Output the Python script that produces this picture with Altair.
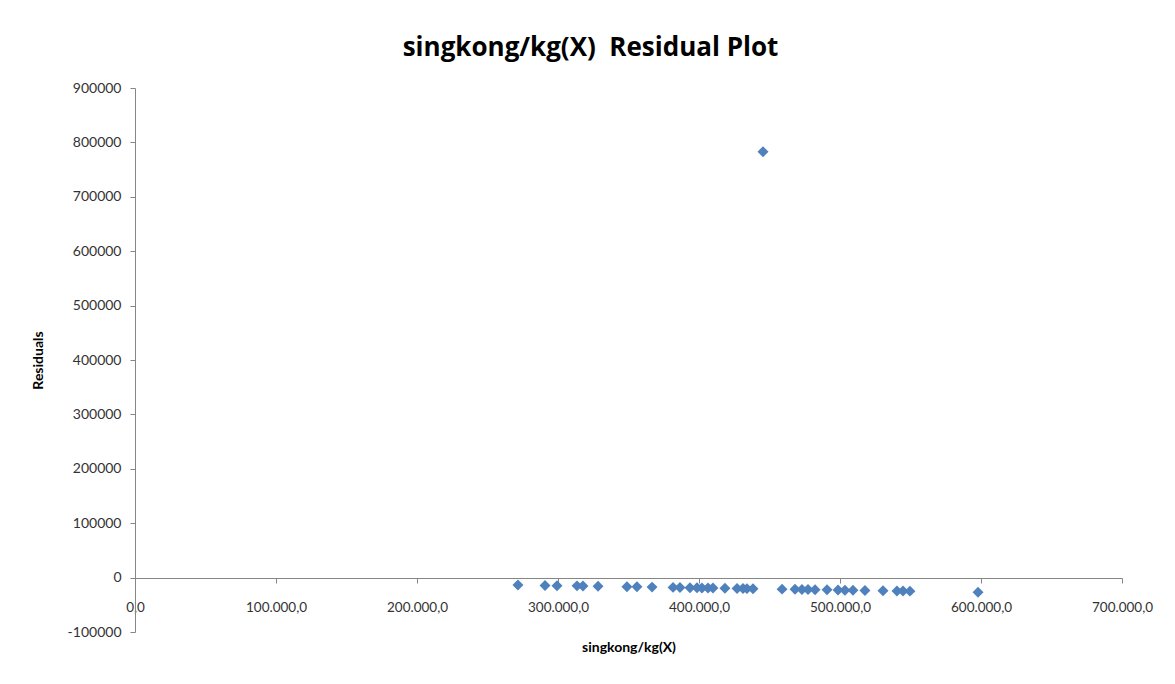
import altair as alt
import pandas as pd

x_values = [271600, 290800, 299300, 313500, 317700, 328400, 348900, 356000, 366700,
            381600, 386500, 393600, 398600, 402100, 406400, 409900, 418400, 427000,
            431200, 434000, 438300, 445400, 458900, 468100, 473000, 477300, 482300,
            490800, 498600, 503500, 509200, 517700, 530500, 540400, 544700, 549600,
            597900]
residuals = [-13500, -14500, -14800, -15200, -15500, -15800, -16800, -17000, -17500,
             -18000, -18300, -18500, -18800, -19000, -19100, -19300, -19600, -20000,
             -20200, -20300, -20500, 783000, -21200, -21600, -21800, -22000, -22200,
             -22500, -22900, -23100, -23300, -23600, -24100, -24500, -24700, -24900,
             -26800]
x_ticks = [0, 100000, 200000, 300000, 400000, 500000, 600000, 700000]
y_ticks = [-100000, 0, 100000, 200000, 300000, 400000, 500000, 600000, 700000, 800000, 900000]

df = pd.DataFrame({"x": x_values, "r": residuals})

FONT = "Lato"
LABEL_COLOR = "#333333"
AXIS_COLOR = "#868686"

x_label_expr = ("replace(replace(replace(format(datum.value, ',.1f'), '.', ';'), ',', '.'), ';', ',')")
y_label_expr = "'' + datum.value"

chart = alt.Chart(df).mark_point(
    shape="diamond", filled=True, size=120, color="#4F81BD", opacity=1
).encode(
    x=alt.X("x:Q", scale=alt.Scale(domain=[0, 700000], nice=False, zero=False),
            axis=alt.Axis(values=x_ticks, title="singkong/kg(X)", labelExpr=x_label_expr,
                          offset=-54, grid=False, domainColor=AXIS_COLOR, tickColor=AXIS_COLOR,
                          tickSize=5, labelPadding=17, labelFontSize=13.5, labelColor=LABEL_COLOR,
                          labelFont=FONT, titleFont=FONT, titleFontSize=14, titleFontWeight="bold",
                          titleColor="#000000", titlePadding=27, labelFlush=False)),
    y=alt.Y("r:Q", scale=alt.Scale(domain=[-100000, 900000], nice=False, zero=False),
            axis=alt.Axis(values=y_ticks, title="Residuals", labelExpr=y_label_expr, grid=False,
                          domainColor=AXIS_COLOR, tickColor=AXIS_COLOR, tickSize=5,
                          labelPadding=9, labelFontSize=14, labelColor=LABEL_COLOR,
                          labelFont=FONT, titleFont=FONT, titleFontSize=14,
                          titleFontWeight="bold", titleColor="#000000",
                          titleX=-97, titleY=272, titleAngle=270, titleBaseline="middle",
                          titleAlign="center", labelFlush=False)),
).properties(
    width=987,
    height=544,
    padding={"left": 135, "top": 88, "right": 53, "bottom": 52},
    autosize=alt.AutoSizeParams(type="none"),
    background="white",
    title=alt.TitleParams("singkong/kg(X)\u00a0 Residual Plot", font="Open Sans", fontSize=26,
                          fontWeight="bold", color="#000000", anchor="middle",
                          dx=-38, offset=20),
).configure_view(stroke=None)

chart.save("out.html", embed_options={"renderer": "svg", "actions": False})
